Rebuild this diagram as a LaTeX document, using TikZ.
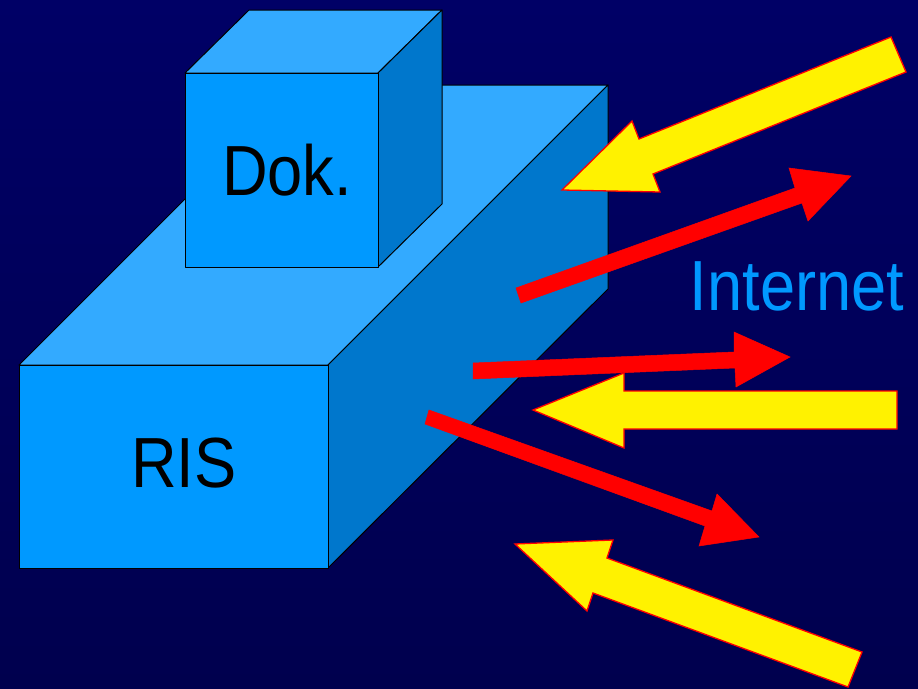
\documentclass[tikz,border=0pt]{standalone}
\usepackage{fontspec}
\setmainfont{Liberation Sans}
\newfontfamily\condfont[FakeStretch=0.89]{Liberation Sans}
\definecolor{bgtop}{RGB}{0,0,102}
\definecolor{bgbot}{RGB}{0,0,78}
\definecolor{frontc}{RGB}{0,153,255}
\definecolor{topc}{RGB}{51,170,255}
\definecolor{sidec}{RGB}{0,119,204}
\definecolor{inetc}{RGB}{0,153,255}
\tikzset{
  face/.style={draw=black, line width=1pt, line join=round},
  yarrow/.style={fill=yellow, draw=red, line width=1.3pt, line join=miter},
  rarrow/.style={fill=red, draw=red, line width=0.5pt, line join=miter},
  bigtext/.style={font=\condfont\fontsize{71}{85}\selectfont, inner sep=0pt, anchor=base}
}
\begin{document}
\begin{tikzpicture}[x=1pt,y=-1pt]
\shade[top color=bgtop, bottom color=bgbot] (0,0) rectangle (918,688);
\useasboundingbox (0,0) rectangle (918,688);
% RIS box
\filldraw[face, fill=topc] (19,365) -- (328,365) -- (608,85) -- (299,85) -- cycle;
\filldraw[face, fill=sidec] (328,365) -- (608,85) -- (608,289) -- (328,568) -- cycle;
\filldraw[face, fill=frontc] (19,365) rectangle (328,568);
% Dok box
\filldraw[face, fill=topc] (185,73) -- (378,73) -- (442,10) -- (249,10) -- cycle;
\filldraw[face, fill=sidec] (378,73) -- (442,10) -- (442,204) -- (378,267) -- cycle;
\filldraw[face, fill=frontc] (185,73) rectangle (378,267);
% arrows
\filldraw[yarrow] (562,190) -- (632,121) -- (639,139) -- (891,37) -- (906,72) -- (653,174) -- (660,192) -- cycle;
\filldraw[rarrow] (516,288) -- (795,188) -- (789,168) -- (851,176) -- (808,221) -- (802,203) -- (521,303) -- cycle;
\filldraw[rarrow] (473,363) -- (734,352) -- (734,332) -- (790,357) -- (736,387) -- (735,368) -- (473,379) -- cycle;
\filldraw[yarrow] (533,410) -- (624,373) -- (624,391) -- (897,391) -- (897,429) -- (624,429) -- (624,448) -- cycle;
\filldraw[rarrow] (429,410) -- (712,511) -- (717,494) -- (759,537) -- (699,546) -- (705,526) -- (425,424) -- cycle;
\filldraw[yarrow] (515,544) -- (613,540) -- (607,558) -- (862,652) -- (848,687) -- (593,593) -- (587,611) -- cycle;
% labels
\node[bigtext, text=black] (dok) at (287,195) {Dok.};
\node[bigtext, text=black] (ris) at (184,487) {RIS};
\node[bigtext, text=inetc] (inet) at (797,310) {Internet};
\end{tikzpicture}
\end{document}
